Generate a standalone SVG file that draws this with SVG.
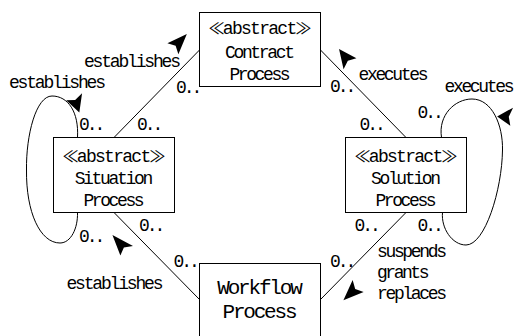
<svg xmlns="http://www.w3.org/2000/svg" width="516" height="336" viewBox="0 0 516 336">
  <style>
    .box { fill: #ffffff; stroke: #000000; stroke-width: 1; }
    .edge { fill: none; stroke: #000000; stroke-width: 1; }
    .dir { fill: #000000; stroke: none; }
    text { font-family: "Liberation Mono", "DejaVu Sans Mono", monospace; font-size: 18px; fill: #000000; }
    .name { text-anchor: middle; }
    .big { font-size: 21px; }
    .cjk { font-family: "Noto Sans CJK JP", "Noto Sans CJK SC", sans-serif; font-size: 16px; }
  </style>

  <rect x="0" y="0" width="516" height="336" fill="#ffffff"/>

  <!-- associations, self-loops, role multiplicities and name direction marks -->
  <g id="connectors">
    <line class="edge" x1="114" y1="137.5" x2="199.5" y2="50"/>
    <line class="edge" x1="320.5" y1="50" x2="406" y2="137.5"/>
    <line class="edge" x1="114" y1="212.5" x2="199.5" y2="299.5"/>
    <line class="edge" x1="406" y1="212.5" x2="320.5" y2="299.5"/>
    <path class="edge" d="M77.5,137.5 C79,112 68,96 52,96 C36,96 26,135 26.5,170 C26,212 40,243 60,243 C71,243 78,228 77.5,212.5"/>
    <path class="edge" d="M441.5,137.5 C438,115 455,99 472,99 C492,99 503,125 502.5,150 C502,190 485,245 466,245 C452,245 441,228 442.5,212.5"/>

    <polygon class="dir" transform="translate(75.8,102) scale(1.1) translate(-75.8,-102)" points="79,111.5 67,100.5 75.2,100.1 81.5,94"/>
    <polygon class="dir" transform="translate(177.5,43.9) scale(1.1) translate(-177.5,-43.9)" points="186,35 168.3,43.3 175.8,45.6 178.3,53.3"/>
    <polygon class="dir" transform="translate(346.3,58.9) scale(1.1) translate(-346.3,-58.9)" points="339.7,50 355.5,58.3 347.7,60.6 343.8,68.3"/>
    <polygon class="dir" transform="translate(506.8,116.7) scale(1.1) translate(-506.8,-116.7)" points="498,116.5 512.5,108.5 508.6,116.7 510,125"/>
    <polygon class="dir" transform="translate(121.9,245.5) scale(1.1) translate(-121.9,-245.5)" points="113.3,236 132,246 123.7,247.4 120.5,254.5"/>
    <polygon class="dir" transform="translate(353.2,290.8) scale(1.1) translate(-353.2,-290.8)" points="344.3,299.3 352.7,281 355,289.1 362.7,292"/>

    <text x="9" y="88" textLength="97">establishes</text>
    <text x="84" y="66.5" textLength="97">establishes</text>
    <text x="358.5" y="80" textLength="70">executes</text>
    <text x="444.5" y="92" textLength="70">executes</text>
    <text x="66.5" y="289" textLength="97">establishes</text>
    <text x="377" y="257" textLength="70">suspends</text>
    <text x="377" y="278" textLength="52.5">grants</text>
    <text x="377" y="299" textLength="70">replaces</text>

    <text x="176" y="92.5" textLength="26.25">0..</text>
    <text x="79" y="129.5" textLength="26.25">0..</text>
    <text x="137" y="130" textLength="26.25">0..</text>
    <text x="330" y="92" textLength="26.25">0..</text>
    <text x="359.5" y="129.5" textLength="26.25">0..</text>
    <text x="417.5" y="118" textLength="26.25">0..</text>
    <text x="79" y="242" textLength="26.25">0..</text>
    <text x="139" y="230.5" textLength="26.25">0..</text>
    <text x="173.5" y="267" textLength="26.25">0..</text>
    <text x="354.5" y="230.5" textLength="26.25">0..</text>
    <text x="417.5" y="230.5" textLength="26.25">0..</text>
    <text x="330" y="267" textLength="26.25">0..</text>
  </g>

  <g id="contract-process">
    <rect class="box" x="199.5" y="12.5" width="121" height="74"/>
    <text class="name" x="260" y="34" textLength="103"><tspan class="cjk">≪</tspan>abstract<tspan class="cjk">≫</tspan></text>
    <text class="name" x="260" y="58" textLength="70">Contract</text>
    <text class="name" x="260" y="80" textLength="61.25">Process</text>
  </g>

  <g id="situation-process">
    <rect class="box" x="53.5" y="137.5" width="121" height="75"/>
    <text class="name" x="114" y="161.5" textLength="103"><tspan class="cjk">≪</tspan>abstract<tspan class="cjk">≫</tspan></text>
    <text class="name" x="114" y="184" textLength="78.75">Situation</text>
    <text class="name" x="114" y="206" textLength="61.25">Process</text>
  </g>

  <g id="solution-process">
    <rect class="box" x="345.5" y="137.5" width="121" height="75"/>
    <text class="name" x="406" y="161.5" textLength="103"><tspan class="cjk">≪</tspan>abstract<tspan class="cjk">≫</tspan></text>
    <text class="name" x="406" y="184" textLength="70">Solution</text>
    <text class="name" x="406" y="206" textLength="61.25">Process</text>
  </g>

  <g id="workflow-process">
    <rect class="box" x="199.5" y="263.5" width="121" height="80"/>
    <text class="name big" x="260" y="293.5" textLength="85.5">Workflow</text>
    <text class="name big" x="260" y="318" textLength="75">Process</text>
  </g>
</svg>
